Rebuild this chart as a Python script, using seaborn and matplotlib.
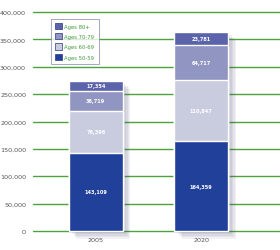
import numpy as np
import matplotlib
matplotlib.use("Agg")
import matplotlib.pyplot as plt
import matplotlib.patheffects as pe
from matplotlib.patches import Patch
import pandas as pd
import seaborn as sns

# Data
years = ["2005", "2020"]
age_groups = ["Ages 50-59", "Ages 60-69", "Ages 70-79", "Ages 80+"]
ages_50_59 = [143109, 164359]
ages_60_69 = [76396, 110847]
ages_70_79 = [36719, 64717]
ages_80_plus = [17354, 23781]
yticks = [0, 50000, 100000, 150000, 200000, 250000, 300000, 350000, 400000]

colors = {
    "Ages 50-59": "#21409a",
    "Ages 60-69": "#c9cbdf",
    "Ages 70-79": "#9195c2",
    "Ages 80+": "#5b64aa",
}
grid_green = "#4ea23c"
text_green = "#3f9a3a"

sns.set_style("white")

series = [ages_50_59, ages_60_69, ages_70_79, ages_80_plus]
cum = np.cumsum(np.array(series), axis=0)  # bottom-up cumulative heights

fig = plt.figure(figsize=(2.8, 2.51), dpi=100)
ax = fig.add_axes([33 / 280, 1 - 232 / 251, 247 / 280, 219 / 251])

for y in yticks:
    ax.axhline(y, color=grid_green, lw=1.0, zorder=0, clip_on=False)

# draw from tallest cumulative down so the layers stack visually
for i in range(len(series) - 1, -1, -1):
    df = pd.DataFrame({"year": years, "value": cum[i]})
    sns.barplot(data=df, x="year", y="value", color=colors[age_groups[i]],
                width=0.51, saturation=1, ax=ax, zorder=3)

# soft drop shadow on the outer bar outline (first drawn patches)
shadow = [pe.SimplePatchShadow(offset=(o, -o), shadow_rgbFace="#3a3f70",
                               alpha=0.07) for o in (1.5, 2.5, 3.5, 4.5, 5.5)]
for p in ax.patches[:len(years)]:
    p.set_path_effects(shadow + [pe.Normal()])
    p.set_clip_on(False)

# value labels at middle of each segment
for i, vals in enumerate(series):
    for j, v in enumerate(vals):
        bottom = cum[i][j] - v
        ax.text(j, bottom + v / 2, f"{v:,}", ha="center", va="center",
                color="white", fontsize=3.6, fontweight="bold", zorder=5)

ax.set_xlim(-0.594, 1.745)
ax.set_ylim(0, 400000)
ax.set_yticks(yticks)
ax.set_yticklabels([f"{t:,}" for t in yticks], fontsize=4.6, color="#555555")
ax.tick_params(axis="y", length=0, pad=5)
ax.tick_params(axis="x", length=0, pad=4, labelsize=4.6, labelcolor="#555555")
ax.set_xlabel("")
ax.set_ylabel("")
for s in ax.spines.values():
    s.set_visible(False)

handles = [Patch(facecolor=colors[g], edgecolor="#2a3580", lw=0.5, label=g)
           for g in reversed(age_groups)]
leg = ax.legend(handles=handles, loc="upper left",
                bbox_to_anchor=(15 / 247, 1 - 4 / 219), fontsize=3.8,
                frameon=True, fancybox=False, handlelength=1.4,
                handleheight=1.4, labelspacing=0.8, borderpad=0.8,
                handletextpad=0.4)
leg.get_frame().set_edgecolor("#7a80b0")
leg.get_frame().set_linewidth(0.6)
for t in leg.get_texts():
    t.set_color(text_green)
leg.set_zorder(6)

fig.savefig("out.png", dpi=100)
